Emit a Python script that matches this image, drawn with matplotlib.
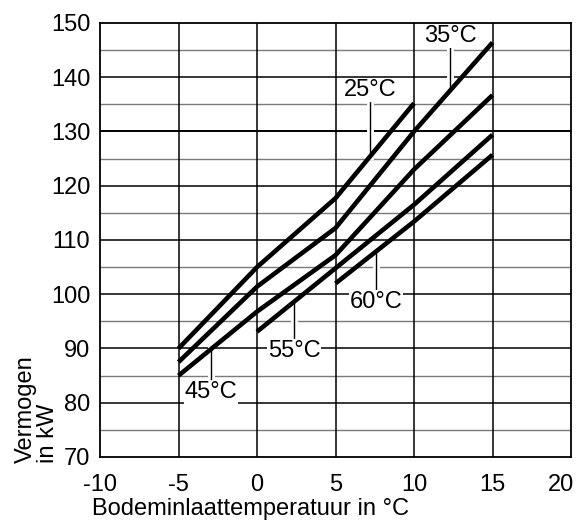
import numpy as np
import matplotlib
matplotlib.use('Agg')
import matplotlib.pyplot as plt
import matplotlib.patheffects as pe
import matplotlib.transforms as mtransforms

plt.rcParams['font.family'] = ['Liberation Sans', 'DejaVu Sans']
plt.rcParams['axes.unicode_minus'] = False

# vermogen per aanvoertemperatuur
x_25 = [-5, 0, 5, 10]
p_25 = [90, 105, 117.7, 135.2]
x_35 = [-5, 0, 5, 10, 15]
p_35 = [87.5, 101.4, 112.2, 130, 146.4]
x_45 = [-5, 0, 5, 10, 15]
p_45 = [85, 96.8, 107.2, 123, 136.7]
x_55 = [0, 5, 10, 15]
p_55 = [93.1, 104.8, 116.5, 129.4]
x_60 = [5, 10, 15]
p_60 = [102, 113.4, 125.7]

curves = [(x_25, p_25), (x_35, p_35), (x_45, p_45), (x_55, p_55), (x_60, p_60)]

# label: text, index curve, x of leader, text y, leader start y
labels = [('25°C', 0, 7.2, 137.6, 135.6),
          ('35°C', 1, 12.3, 147.6, 145.5),
          ('45°C', 2, -2.95, 81.9, 84.4),
          ('55°C', 3, 2.36, 89.6, 91.6),
          ('60°C', 4, 7.56, 98.6, 100.6)]

fig = plt.figure(figsize=(5.79, 5.21), dpi=100)
ax = fig.add_axes([100/579, 64/521, 471/579, 434/521])

ax.set_xlim(-10, 20)
ax.set_ylim(70, 150)

for y in range(75, 150, 10):
    ax.axhline(y, color='#7a7a7a', linewidth=1.0, zorder=1)
for y in range(80, 150, 10):
    ax.axhline(y, color='black', linewidth=1.1 if y != 130 else 1.4, zorder=1)
for x in range(-5, 20, 5):
    ax.axvline(x, color='black', linewidth=1.1, zorder=1)

for xs, ps in curves:
    ax.plot(xs, ps, color='black', linewidth=3.3, solid_capstyle='butt', zorder=3)

for txt, i, lx, ty, ly in labels:
    xs, ps = curves[i]
    yl = np.interp(lx, xs, ps)
    ax.plot([lx, lx], [ly, yl], color='black', linewidth=1.0, zorder=2,
            path_effects=[pe.Stroke(linewidth=5, foreground='white'), pe.Normal()])
    ax.text(lx, ty, txt, fontsize=17, ha='center', va='center', zorder=4,
            bbox=dict(facecolor='white', edgecolor='none', pad=0.5))

ax.set_xticks(range(-10, 25, 5))
ax.set_yticks(range(70, 160, 10))
ax.tick_params(axis='x', length=0, pad=12, labelsize=17)
ax.tick_params(axis='y', length=0, pad=7, labelsize=17)
for s in ax.spines.values():
    s.set_linewidth(1.3)

# keep the last x label inside the figure
last = ax.get_xticklabels()[-1]
last.set_transform(last.get_transform() +
                   mtransforms.ScaledTranslation(-10/100, 0, fig.dpi_scale_trans))

fig.text(250/579, 6/521, 'Bodeminlaattemperatuur in °C', fontsize=17,
         ha='center', va='baseline')
fig.text(37/579, 58/521, 'Vermogen\nin kW', fontsize=17, rotation=90,
         ha='center', va='bottom', multialignment='left', linespacing=1.0)

fig.savefig('out.png', dpi=100)
